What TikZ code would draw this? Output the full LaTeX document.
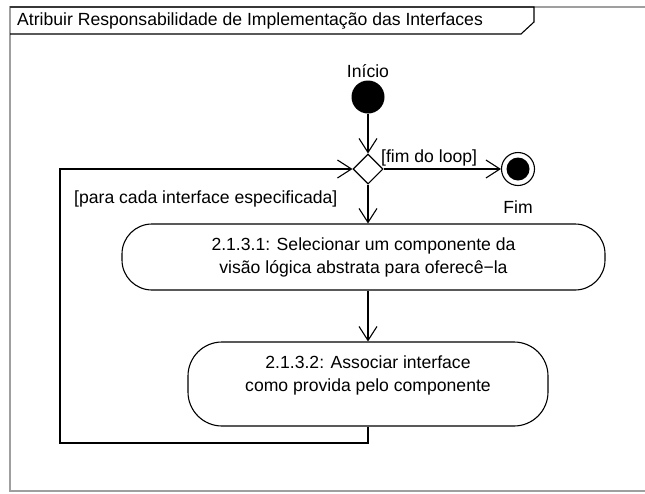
\documentclass[tikz,border=0pt]{standalone}
\usepackage{fontspec}
\setmainfont{Liberation Sans}
\usetikzlibrary{shapes.geometric,arrows.meta}
\begin{document}
\begin{tikzpicture}[x=1pt,y=-1pt,
  every node/.style={font=\fontsize{17.6}{23}\selectfont},
  flow/.style={draw=black,line width=1.1pt,-{Straight Barb[length=14pt,width=18pt,line width=1.1pt]}},
  plain/.style={draw=black,line width=1.1pt},
  activity/.style={draw=black,line width=1.1pt,rectangle,align=center,inner sep=0pt},
  lbl/.style={inner sep=0pt}]
  \useasboundingbox (0,0) rectangle (645,493);
  % frame of the activity
  \draw[gray!75,line width=1.2pt] (645,7) -- (10,7) -- (10,491) -- (645,491);
  \draw[plain] (10,7) -- (534,7) -- (534,22) -- (521,34) -- (10,34);
  \node[lbl,anchor=west] (title) at (17,21) {Atribuir Responsabilidade de Implementação das Interfaces};
  % nodes
  \node[circle,fill=black,minimum size=33pt,inner sep=0pt] (start) at (368,97) {};
  \node[lbl] (startlbl) at (368,71) {Início};
  \node[diamond,draw=black,line width=1.1pt,minimum size=30pt,inner sep=0pt] (dec) at (368,169) {};
  \node[circle,draw=black,line width=1.1pt,minimum size=33pt,inner sep=0pt,
        path picture={\fill[black] (path picture bounding box.center) circle (11.5pt);}] (stop) at (518,169) {};
  \node[lbl] (stoplbl) at (518,207) {Fim};
  \node[activity,minimum width=483pt,minimum height=66pt,rounded corners=30pt] (act1) at (363.5,257)
    {2.1.3.1: Selecionar um componente da\\visão lógica abstrata para oferecê−la};
  \node[activity,minimum width=360pt,minimum height=84pt,rounded corners=34pt,text depth=20pt] (act2) at (368,384)
    {2.1.3.2: Associar interface\\como provida pelo componente};
  \coordinate (loopR) at (368,443);
  \coordinate (loopL) at (60,443);
  \coordinate (loopT) at (60,169);
  % connectors
  \draw[flow] (start) -- (dec.north);
  \draw[flow] (dec.east) -- (stop.west);
  \draw[flow] (dec.south) -- (act1.north -| dec.south);
  \draw[flow] (act1.south -| act2.north) -- (act2.north);
  \draw[flow] (act2.south) -- (loopR) -- (loopL) -- (loopT) -- (dec.west);
  \node[lbl,anchor=west] (guardend) at (381,158) {[fim do loop]};
  \node[lbl,anchor=west] (guardeach) at (74,199) {[para cada interface especificada]};
\end{tikzpicture}
\end{document}
